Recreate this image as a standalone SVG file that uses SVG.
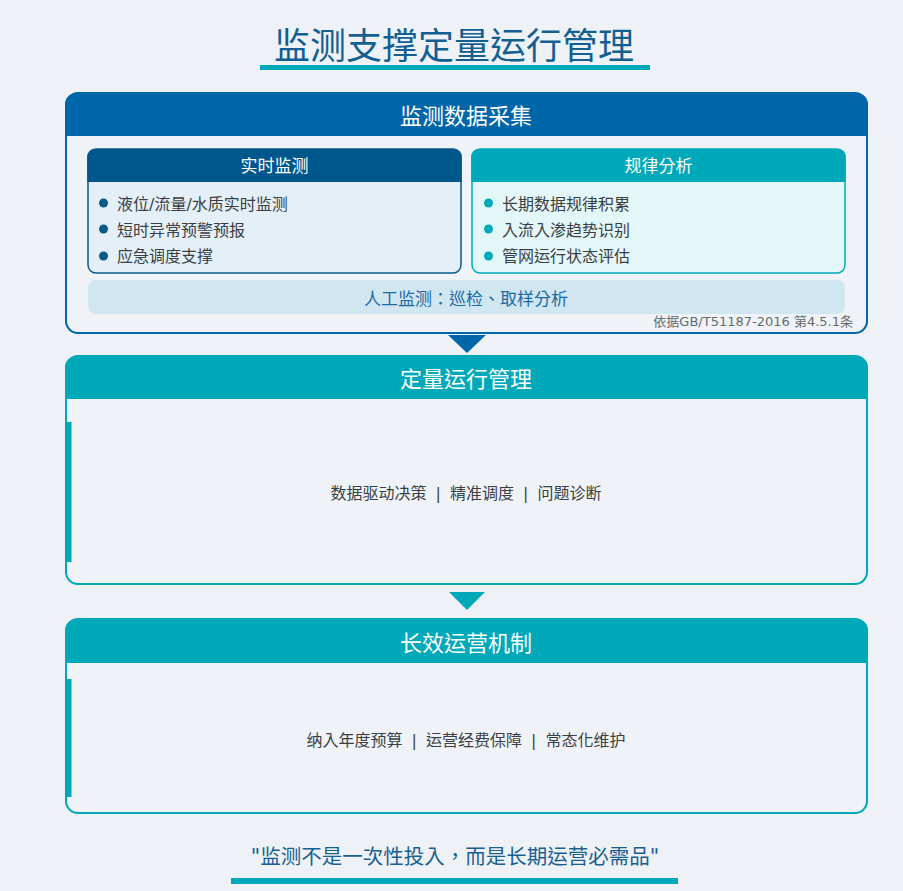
<svg xmlns="http://www.w3.org/2000/svg" width="903" height="891" viewBox="0 0 903 891">
<style>
text{font-family:"DejaVu Sans","Noto Sans CJK TC",sans-serif}
.title{font-size:36px;fill:#135f91;text-anchor:middle}
.hdr{font-size:22px;fill:#ffffff;text-anchor:middle}
.sub{font-size:17px;fill:#ffffff;text-anchor:middle}
.item{font-size:16px;fill:#3a3f45}
.body{font-size:16px;fill:#3a3f45;text-anchor:middle;word-spacing:4px}
.teal{fill:#00a9b9}
.blue{fill:#0066aa}
</style>
<rect width="903" height="891" fill="#eef2f6"/>

<g id="title">
<text class="title" x="454" y="59">监测支撑定量运行管理</text>
<rect class="teal" x="260" y="65" width="390" height="5"/>
</g>

<g id="data-collection">
<rect x="66" y="93" width="801" height="240" rx="12" fill="#eff3f7" stroke="#0066aa" stroke-width="2"/>
<path class="blue" d="M65,136 V105 A12,12 0 0 1 77,93 H856 A12,12 0 0 1 868,105 V136 Z"/>
<text class="hdr" x="466" y="124">监测数据采集</text>
</g>

<g id="realtime">
<rect x="88" y="149" width="373" height="124" rx="8" fill="#e4eff8" stroke="#0a5a8a" stroke-width="1.5"/>
<path d="M87.25,182 V157 A8,8 0 0 1 95.25,149 H453.75 A8,8 0 0 1 461.75,157 V182 Z" fill="#00578c"/>
<text class="sub" x="274.5" y="172">实时监测</text>
<circle cx="103.5" cy="203" r="4.5" fill="#0a5a8a"/>
<circle cx="103.5" cy="229" r="4.5" fill="#0a5a8a"/>
<circle cx="103.5" cy="256" r="4.5" fill="#0a5a8a"/>
<text class="item" x="117" y="210">液位/流量/水质实时监测</text>
<text class="item" x="117" y="236">短时异常预警预报</text>
<text class="item" x="117" y="262">应急调度支撑</text>
</g>

<g id="pattern">
<rect x="472" y="149" width="373" height="124" rx="8" fill="#e3f6f8" stroke="#00a9b9" stroke-width="1.5"/>
<path class="teal" d="M471.25,182 V157 A8,8 0 0 1 479.25,149 H837.75 A8,8 0 0 1 845.75,157 V182 Z"/>
<text class="sub" x="658.5" y="172">规律分析</text>
<circle cx="488.5" cy="203" r="4.5" fill="#00a9b9"/>
<circle cx="488.5" cy="229" r="4.5" fill="#00a9b9"/>
<circle cx="488.5" cy="256" r="4.5" fill="#00a9b9"/>
<text class="item" x="502" y="210">长期数据规律积累</text>
<text class="item" x="502" y="236">入流入渗趋势识别</text>
<text class="item" x="502" y="262">管网运行状态评估</text>
</g>

<g id="manual">
<rect x="88" y="280" width="757" height="34" rx="8" fill="#d0e7f2"/>
<text x="466" y="305" font-size="17" fill="#1f6aa5" text-anchor="middle">人工监测：巡检、取样分析</text>
<text x="853" y="326" font-size="13" fill="#666b70" text-anchor="end">依据GB/T51187-2016 第4.5.1条</text>
</g>

<g id="quant-mgmt">
<rect x="66" y="356" width="801" height="228" rx="12" fill="#eff3f7" stroke="#00a9b9" stroke-width="2"/>
<path class="teal" d="M65,399 V368 A12,12 0 0 1 77,356 H856 A12,12 0 0 1 868,368 V399 Z"/>
<rect class="teal" x="66" y="422" width="5.5" height="140"/>
<text class="hdr" x="466" y="387">定量运行管理</text>
<text class="body" x="466" y="499">数据驱动决策 | 精准调度 | 问题诊断</text>
</g>

<g id="long-term">
<rect x="66" y="619" width="801" height="194" rx="12" fill="#eff3f7" stroke="#00a9b9" stroke-width="2"/>
<path class="teal" d="M65,663 V631 A12,12 0 0 1 77,619 H856 A12,12 0 0 1 868,631 V663 Z"/>
<rect class="teal" x="66" y="679" width="5.5" height="118"/>
<text class="hdr" x="466" y="651">长效运营机制</text>
<text class="body" x="466" y="746">纳入年度预算 | 运营经费保障 | 常态化维护</text>
</g>

<g id="connectors">
<polygon class="blue" points="448,335 486,335 467,353"/>
<polygon class="teal" points="449,592 485,592 467,610"/>
</g>

<g id="quote">
<text x="455" y="864" font-size="20.5" fill="#1a5f92" text-anchor="middle">"监测不是一次性投入，而是长期运营必需品"</text>
<rect class="teal" x="231" y="878" width="447" height="6"/>
</g>
</svg>
